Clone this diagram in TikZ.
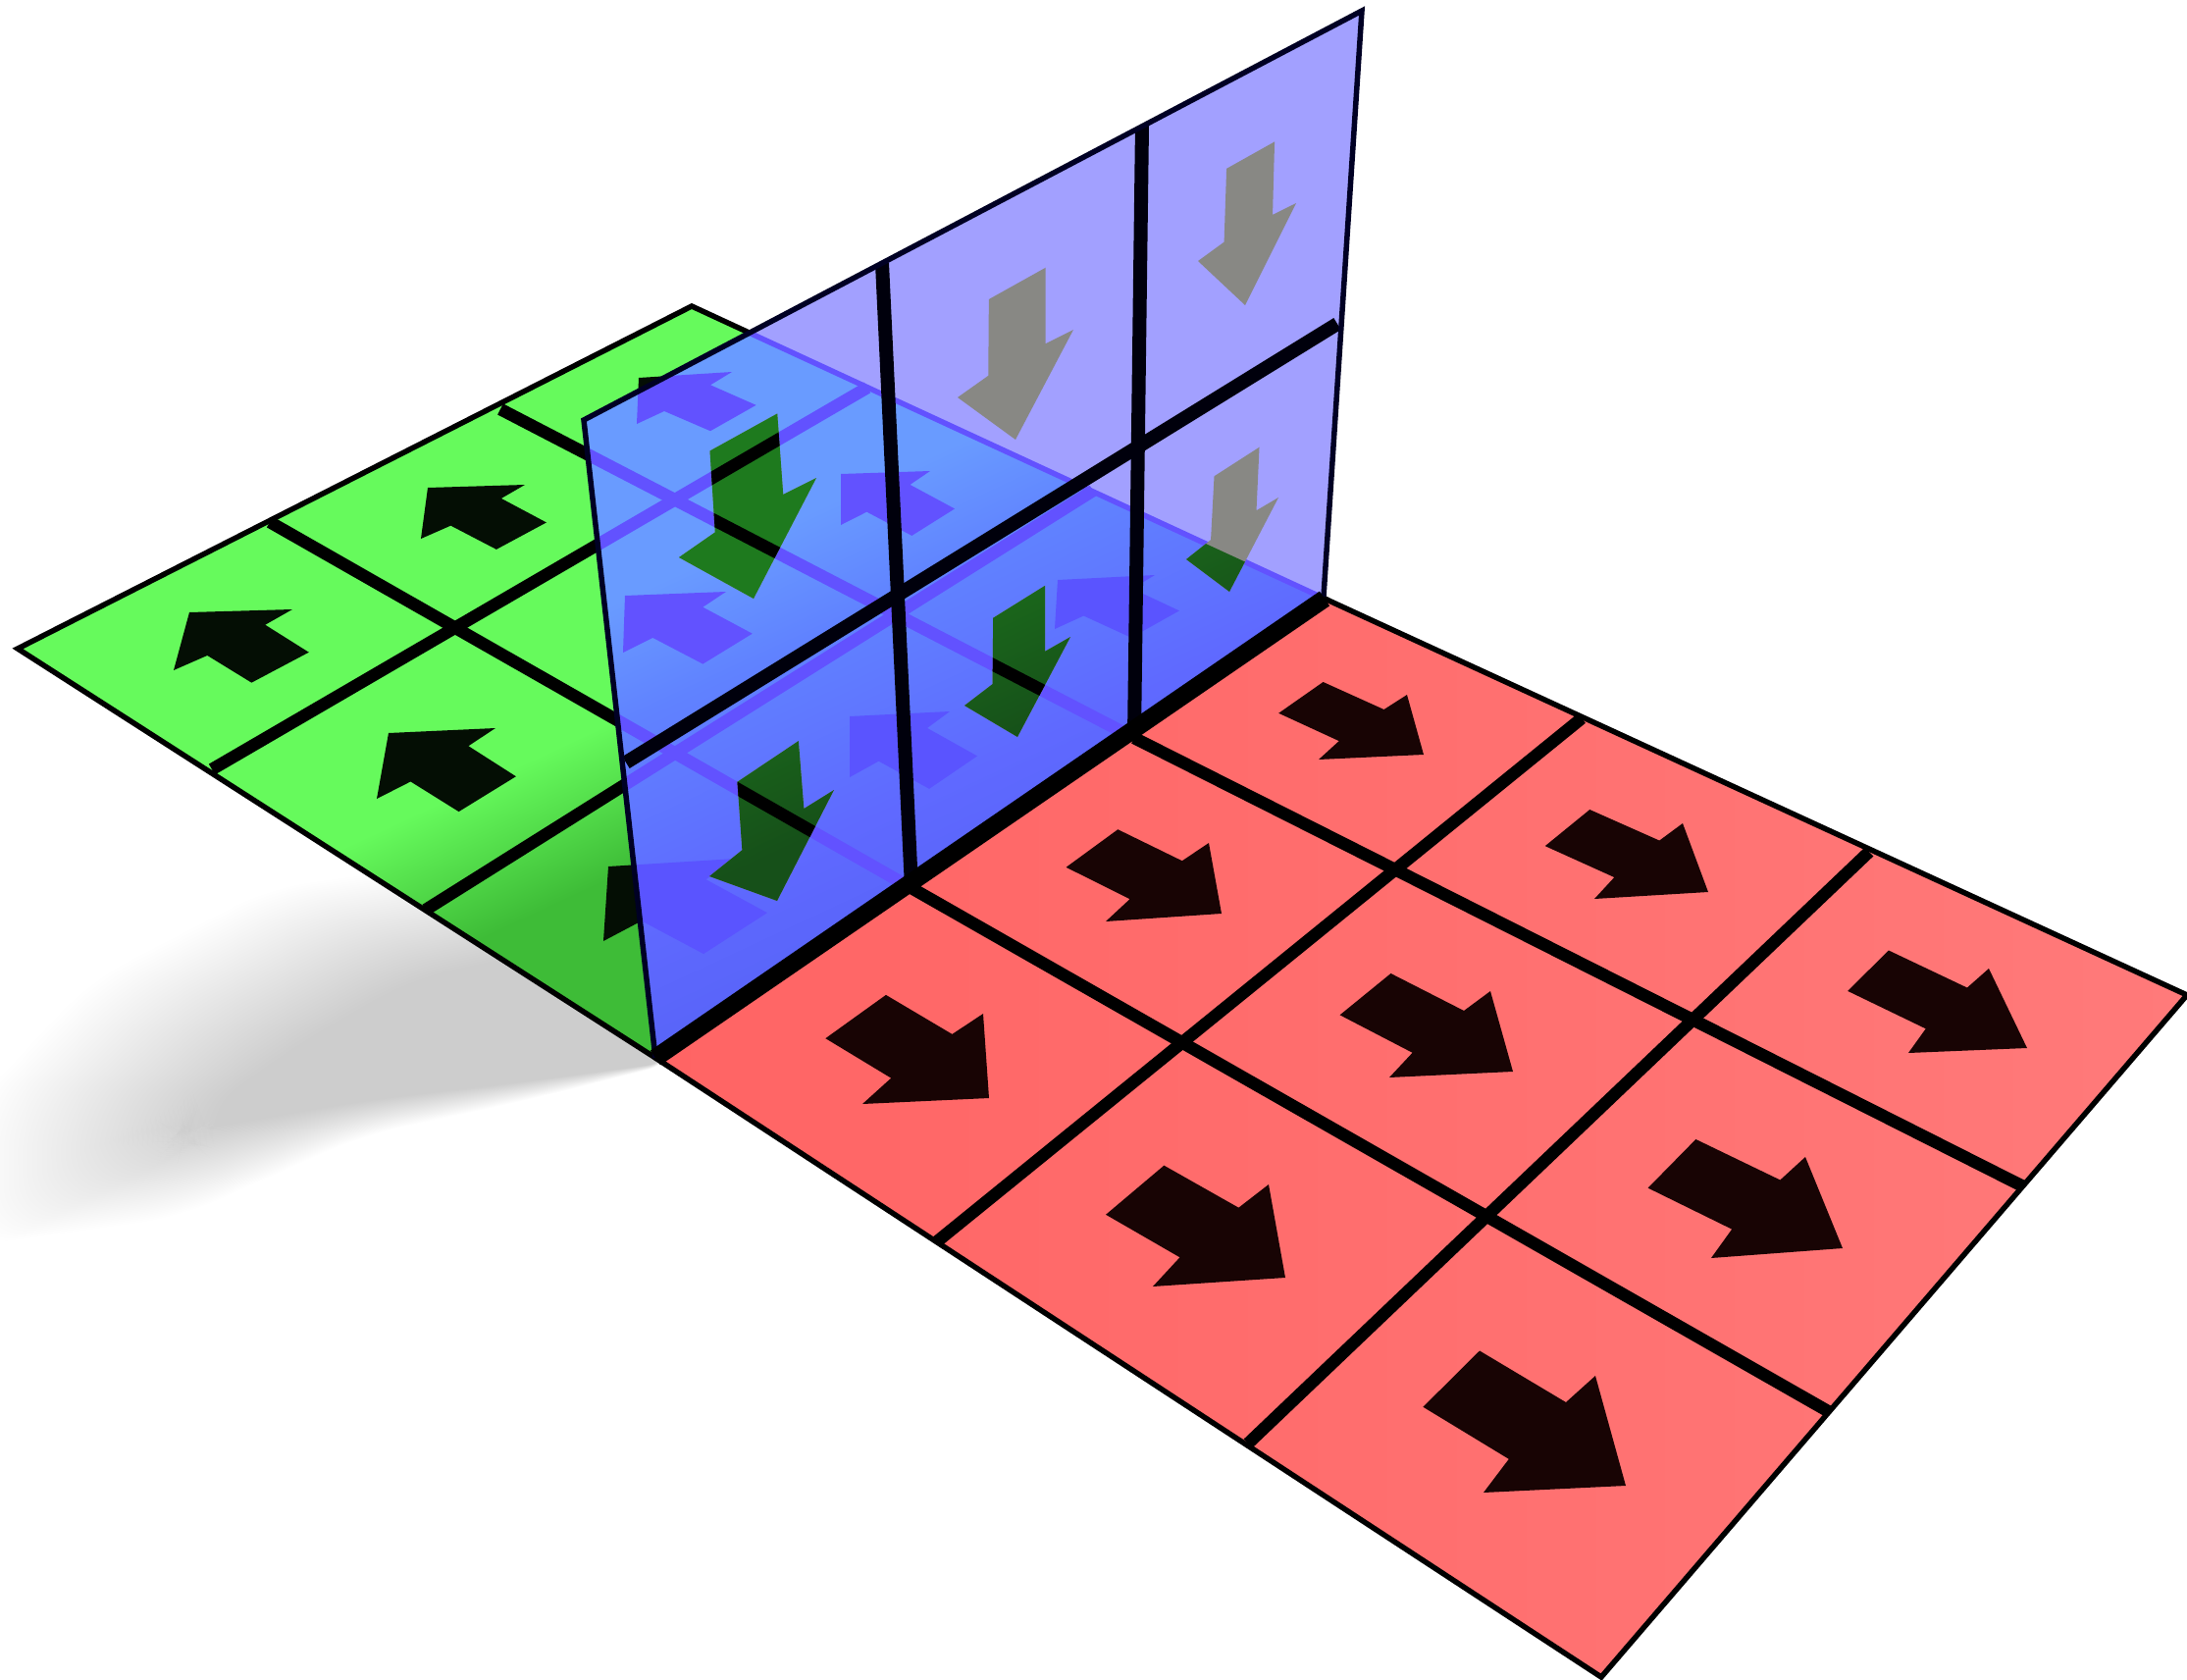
\documentclass[tikz,border=0pt]{standalone}
\usepackage{xcolor}
\usepackage{tikz}
\usetikzlibrary{calc}

\definecolor{redfloor}{RGB}{255,100,100}
\definecolor{redfloorfar}{RGB}{255,122,122}
\definecolor{redarrow}{RGB}{24,4,4}
\definecolor{greenarrow}{RGB}{4,14,4}
\definecolor{greendark}{RGB}{62,188,55}
\definecolor{greenlight}{RGB}{102,250,92}
\definecolor{wallwhite}{RGB}{162,160,255}
\definecolor{wallgray}{RGB}{136,136,132}
\definecolor{wallrim}{RGB}{0,0,36}
\definecolor{wallline}{RGB}{0,0,12}
\definecolor{seenlow}{RGB}{88,100,248}
\definecolor{seenmid}{RGB}{95,105,255}
\definecolor{seenhigh}{RGB}{96,130,255}
\definecolor{seentop}{RGB}{105,155,255}
\definecolor{seenline}{RGB}{98,82,255}
\definecolor{seenfaint}{RGB}{90,84,255}
\definecolor{darklow}{RGB}{22,80,25}
\definecolor{darkhigh}{RGB}{30,122,30}

\pgfdeclareverticalshading{floorgreen}{100bp}{color(0bp)=(greendark); color(45.5bp)=(greendark); color(50bp)=(greenlight); color(100bp)=(greenlight)}
\pgfdeclareverticalshading{floorseen}{100bp}{color(0bp)=(seenlow); color(39.7bp)=(seenlow); color(43.7bp)=(seenmid); color(49.8bp)=(seenhigh); color(53.4bp)=(seentop); color(100bp)=(seentop)}
\pgfdeclareverticalshading{floordark}{100bp}{color(0bp)=(darklow); color(44bp)=(darklow); color(52bp)=(darkhigh); color(100bp)=(darkhigh)}

% head tip, far wing, near wing of an arrow
\newcommand{\setarrow}[3]{
  \coordinate (atip) at (#1);
  \coordinate (awa) at (#2);
  \coordinate (awb) at (#3);
  \coordinate (amid) at ($(awa)!0.5!(awb)$);
  \coordinate (ah) at ($(atip)-(amid)$);
  \coordinate (al) at ($(awb)-(amid)$);
  \coordinate (an1) at ($(amid)-0.03*(ah)-0.52*(al)$);
  \coordinate (at1) at ($(amid)-1.03*(ah)-0.52*(al)$);
  \coordinate (at2) at ($(amid)-1.05*(ah)+0.46*(al)$);
  \coordinate (an2) at ($(amid)-0.05*(ah)+0.47*(al)$);
}
\newcommand{\arrowshape}{(atip) -- (awa) -- (an1) -- (at1) -- (at2) -- (an2) -- (awb) -- cycle}
\newcommand{\cellarrow}[4][]{\setarrow{#2}{#3}{#4}\fill[#1] \arrowshape;}

\newcommand{\floorshape}{(18,661) -- (705,312) -- (1350,610) -- (668,1078) -- cycle}
\newcommand{\wallshape}{(595,428) -- (1388,11) -- (1349,608) -- (668,1078) -- cycle}
\newcommand{\redshape}{(668,1078) -- (1350,610) -- (2229,1014) -- (1632,1709) -- cycle}
\newcommand{\floorgrid}[1]{
  \draw[#1] (275,532) -- (929,905);
  \draw[#1] (510,417) -- (1156,752);
  \draw[#1] (216,784) -- (884,395);
  \draw[#1] (434,927) -- (1114,500);
}
\newcommand{\floorfill}[1]{\shade[shading=#1, shading angle=25] (-100,-100) rectangle (1500,1500);}
% arrow on the wall: gray over white, dark over the floor behind it
\newcommand{\wallarrow}[3]{
  \setarrow{#1}{#2}{#3}
  \fill[wallgray] \arrowshape;
  \begin{scope}
    \clip \arrowshape;
    \clip \floorshape;
    \floorfill{floordark}
    \floorgrid{gridline, black}
  \end{scope}
}

\begin{document}
\begin{tikzpicture}[
    x=0.01cm, y=-0.01cm,
    rimline/.style={line width=0.055cm},
    gridline/.style={line width=0.125cm},
    wallgrid/.style={line width=0.14cm, draw=wallline},
    hingeline/.style={line width=0.18cm},
    shadowstep/.style={fill=black, fill opacity=0.0045, rounded corners=12pt},
    greenhead/.style={fill=greenarrow},
    redhead/.style={fill=redarrow},
    seenhead/.style={fill=seenline},
    seenfainthead/.style={fill=seenfaint}
]
\useasboundingbox (0,0) rectangle (2229,1712);

% Shadow under the green floor
\foreach \t in {0,0.02,...,1}
  \fill[shadowstep] ($(700,1080)!\t!(700,1080)$) -- ($(551,1118)!\t!(551,1100)$)
    -- ($(367,1158)!\t!(367,1122)$) -- ($(184,1240)!\t!(190,1152)$)
    -- ($(-30,1270)!\t!(215,1145)$) -- ($(-30,1130)!\t!(210,1135)$)
    -- ($(92,1000)!\t!(300,1070)$) -- ($(275,905)!\t!(420,1000)$)
    -- ($(459,880)!\t!(600,960)$) -- cycle;

% Green floor
\begin{scope}
  \clip \floorshape;
  \floorfill{floorgreen}
\end{scope}
\cellarrow[greenhead]{193,624}{298,621}{177,683}
\cellarrow[greenhead]{436,497}{535,494}{429,549}
\cellarrow[greenhead]{651,385}{746,379}{649,432}
\cellarrow[greenhead]{396,747}{505,742}{384,814}
\cellarrow[greenhead]{620,883}{750,875}{615,959}
\begin{scope}
  \clip \floorshape;
  \floorgrid{gridline}
\end{scope}
\draw[rimline] \floorshape;

% Red floor
\shade[left color=redfloor, right color=redfloorfar] \redshape;
\cellarrow[redhead]{1451,769}{1434,708}{1344,774}
\cellarrow[redhead]{1741,909}{1715,839}{1625,916}
\cellarrow[redhead]{2066,1068}{2027,987}{1945,1073}
\cellarrow[redhead]{1245,931}{1232,859}{1127,939}
\cellarrow[redhead]{1542,1092}{1519,1010}{1416,1098}
\cellarrow[redhead]{1878,1272}{1840,1179}{1744,1282}
\cellarrow[redhead]{1008,1119}{1002,1033}{879,1125}
\cellarrow[redhead]{1310,1302}{1293,1207}{1175,1311}
\cellarrow[redhead]{1657,1514}{1626,1402}{1512,1521}
\begin{scope}
  \clip \redshape;
  \draw[gridline] (1156,752) -- (2064,1210);
  \draw[gridline] (929,905) -- (1863,1438);
  \draw[gridline] (1612,732) -- (954,1266);
  \draw[gridline] (1905,868) -- (1272,1471);
\end{scope}
\draw[rimline] (1350,610) -- (2229,1014) -- (1632,1709) -- (668,1078);

% Blue wall, floor seen through it
\fill[wallwhite] \wallshape;
\begin{scope}
  \clip \wallshape;
  \begin{scope}
    \clip \floorshape;
    \floorfill{floorseen}
  \end{scope}
  \cellarrow[seenhead]{651,385}{746,379}{649,432}
  \cellarrow[seenhead]{637,607}{740,603}{635,665}
  \cellarrow[seenhead]{857,483}{948,480}{857,535}
  \cellarrow[seenfainthead]{620,883}{750,875}{615,959}
  \cellarrow[seenfainthead]{866,730}{968,725}{866,792}
  \cellarrow[seenfainthead]{1078,591}{1177,586}{1075,641}
  \floorgrid{gridline, draw=seenline}
  \draw[rimline, draw=seenline] (705,312) -- (1350,610);
\end{scope}

% Arrows on the wall
\wallarrow{1269,311}{1321,207}{1221,266}
\wallarrow{1035,448}{1094,336}{976,405}
\wallarrow{768,610}{832,487}{692,568}
\wallarrow{792,918}{850,805}{723,893}
\wallarrow{1037,751}{1091,649}{983,719}
\wallarrow{1253,603}{1303,507}{1209,570}

% Wall lines
\begin{scope}
  \clip \wallshape;
  \draw[wallgrid] (899,268) -- (929,905);
  \draw[wallgrid] (1164,128) -- (1156,752);
  \draw[wallgrid] (638,777) -- (1363,330);
\end{scope}
\draw[rimline, draw=wallrim] (668,1078) -- (595,428) -- (1388,11) -- (1349,608);
\draw[hingeline] (668,1078) -- (1350,610);

\end{tikzpicture}
\end{document}
